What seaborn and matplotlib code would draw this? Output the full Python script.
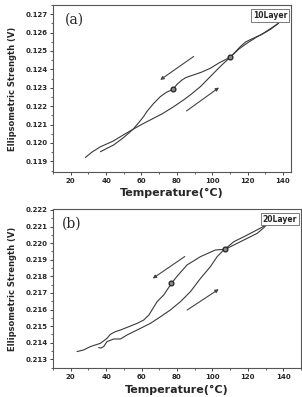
import matplotlib
matplotlib.use("Agg")
import matplotlib.pyplot as plt
import seaborn as sns
from matplotlib.ticker import MultipleLocator

sns.set_style("ticks")
plt.rcParams['font.family'] = ['DejaVu Sans']

# ---- panel (a): 10 layer ----
a_heat_t = [36.8, 40, 44.3, 50, 55.2, 60, 65, 72, 78.2, 84, 87.6, 93.3, 97, 100.8, 105, 110.2, 115, 119.6, 125, 129, 133, 137.5]
a_heat_v = [0.11952, 0.11968, 0.11989, 0.12030, 0.12074, 0.12100, 0.12125, 0.12160, 0.12197, 0.12235, 0.12261, 0.12306, 0.12342, 0.12379, 0.12420, 0.12466, 0.12510, 0.12542, 0.12575, 0.12597, 0.12622, 0.12651]
a_cool_t = [137.5, 133, 128, 123.4, 119, 115.9, 110.2, 104, 98.9, 94, 89.5, 85, 82.9, 80, 78, 74, 70.7, 66.9, 63, 61.2, 58, 55.2, 50, 44, 36.8, 32, 28.3]
a_cool_v = [0.12651, 0.12618, 0.12590, 0.12570, 0.12550, 0.12524, 0.12466, 0.12436, 0.12406, 0.12385, 0.12370, 0.12355, 0.12342, 0.12318, 0.12292, 0.12275, 0.12252, 0.12215, 0.12170, 0.12143, 0.12105, 0.12074, 0.12045, 0.12010, 0.11979, 0.11950, 0.11921]
a_marks_t = [78, 110.2]
a_marks_v = [0.12292, 0.12466]

# ---- panel (b): 20 layer ----
b_heat_t = [35.8, 37, 38.6, 40.5, 44.3, 48.1, 51.8, 57.5, 65, 70.7, 76.3, 82, 87.6, 93.3, 98.9, 102.7, 106.4, 112.1, 119.6, 125.3, 129.1, 130.9]
b_heat_v = [0.21371, 0.21368, 0.21377, 0.21407, 0.21423, 0.21423, 0.21447, 0.21477, 0.21517, 0.21557, 0.21598, 0.21648, 0.21708, 0.21788, 0.21859, 0.21919, 0.21959, 0.21989, 0.22029, 0.22059, 0.22094, 0.22114]
b_cool_t = [130.9, 127, 123.4, 118, 112.1, 107, 101.7, 93.3, 85.7, 80, 76.9, 72.5, 68.8, 66.5, 64.1, 61.2, 57.5, 52.8, 48.1, 45.2, 42.4, 40.5, 36.8, 31.1, 27.3, 23.6]
b_cool_v = [0.22114, 0.22090, 0.22070, 0.22040, 0.22009, 0.21963, 0.21959, 0.21919, 0.21869, 0.21800, 0.21758, 0.21688, 0.21648, 0.21608, 0.21567, 0.21537, 0.21517, 0.21497, 0.21477, 0.21467, 0.21451, 0.21427, 0.21397, 0.21377, 0.21357, 0.21347]
b_marks_t = [76.9, 107]
b_marks_v = [0.21758, 0.21963]

line_c = "#3a3a3a"

fig = plt.figure(figsize=(3.02, 3.97), dpi=100)
ax1 = fig.add_axes([0.1755, 0.5668, 0.788, 0.4206])
ax2 = fig.add_axes([0.1755, 0.0730, 0.821, 0.4006])


def draw(ax, ht, hv, ct, cv, mt, mv, cool_arrow, heat_arrow, tag, tagx, label, xlim, ylim, yticks):
    sns.lineplot(x=ht, y=hv, sort=False, estimator=None, color=line_c, lw=0.8, ax=ax)
    sns.lineplot(x=ct, y=cv, sort=False, estimator=None, color=line_c, lw=0.8, ax=ax)
    sns.scatterplot(x=mt, y=mv, marker="o", s=12, facecolor="#888888", edgecolor="#222222",
                    linewidth=0.9, ax=ax, zorder=5)
    for (x0, y0, x1, y1) in (cool_arrow, heat_arrow):
        ax.annotate("", xy=(x1, y1), xytext=(x0, y0),
                    arrowprops=dict(arrowstyle="-|>", mutation_scale=5, color="#444444", lw=0.8))
    ax.set_xlim(*xlim)
    ax.set_ylim(*ylim)
    ax.xaxis.set_major_locator(MultipleLocator(20))
    ax.xaxis.set_minor_locator(MultipleLocator(10))
    ax.set_yticks(yticks)
    ax.yaxis.set_minor_locator(MultipleLocator(0.0005))
    ax.tick_params(which="major", labelsize=5, length=2.5, width=0.6, pad=1.5)
    ax.tick_params(which="minor", length=1.5, width=0.5)
    for lab in ax.get_xticklabels() + ax.get_yticklabels():
        lab.set_fontweight("bold")
    for sp in ax.spines.values():
        sp.set_visible(True)
        sp.set_linewidth(0.8)
        sp.set_color("#555555")
    ax.set_xlabel("Temperature(\u00b0C)", fontsize=8, fontweight="bold", labelpad=3.5)
    ax.set_ylabel("Ellipsometric Strength (V)", fontsize=6, fontweight="bold", labelpad=6)
    ax.text(tagx, 0.91, tag, transform=ax.transAxes, fontsize=10, family="serif", va="center", ha="left")
    ax.text(0.985, 0.965, label, transform=ax.transAxes, fontsize=5.5, fontweight="bold",
            va="top", ha="right",
            bbox=dict(boxstyle="square,pad=0.25", fc="white", ec="#666666", lw=0.6))


draw(ax1, a_heat_t, a_heat_v, a_cool_t, a_cool_v, a_marks_t, a_marks_v,
     (90.8, 0.12479, 69.3, 0.12334), (84.2, 0.12165, 105.1, 0.1231),
     "(a)", 0.05, "10Layer", (10, 144.5), (0.11842, 0.1275),
     [0.119, 0.120, 0.121, 0.122, 0.123, 0.124, 0.125, 0.126, 0.127])
draw(ax2, b_heat_t, b_heat_v, b_cool_t, b_cool_v, b_marks_t, b_marks_v,
     (85.7, 0.21929, 65, 0.21778), (84.4, 0.21588, 104.9, 0.21732),
     "(b)", 0.036, "20Layer", (10, 150), (0.21248, 0.22206),
     [0.213, 0.214, 0.215, 0.216, 0.217, 0.218, 0.219, 0.220, 0.221, 0.222])

fig.savefig("out.png", dpi=100)
